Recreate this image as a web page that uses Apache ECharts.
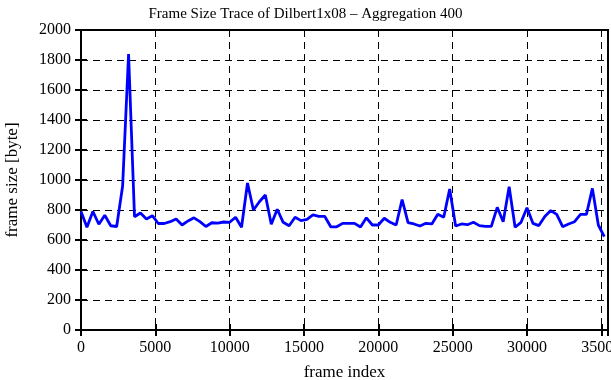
<!DOCTYPE html>
<html>
<head>
<meta charset="utf-8">
<script src="https://cdn.jsdelivr.net/npm/echarts@6/dist/echarts.min.js"></script>
<style>
  html, body { margin: 0; padding: 0; background: #fff; }
  #chart { width: 611px; height: 380px; }
</style>
</head>
<body>
<div id="chart"></div>
<script>
// frame index of every aggregated sample (400 frames each)
const frames = [
  0, 400, 800, 1200, 1600, 2000, 2400, 2800, 3200, 3600,
  4000, 4400, 4800, 5200, 5600, 6000, 6400, 6800, 7200, 7600,
  8000, 8400, 8800, 9200, 9600, 10000, 10400, 10800, 11200, 11600,
  12000, 12400, 12800, 13200, 13600, 14000, 14400, 14800, 15200, 15600,
  16000, 16400, 16800, 17200, 17600, 18000, 18400, 18800, 19200, 19600,
  20000, 20400, 20800, 21200, 21600, 22000, 22400, 22800, 23200, 23600,
  24000, 24400, 24800, 25200, 25600, 26000, 26400, 26800, 27200, 27600,
  28000, 28400, 28800, 29200, 29600, 30000, 30400, 30800, 31200, 31600,
  32000, 32400, 32800, 33200, 33600, 34000, 34400, 34800, 35200
]
// frame size [byte]
const frameSize = [
  790, 685, 790, 705, 765, 695, 690, 960, 1840, 755,
  780, 740, 762, 710, 710, 722, 740, 700, 727, 748,
  722, 690, 715, 713, 720, 718, 752, 685, 980, 800,
  855, 900, 705, 805, 718, 695, 752, 729, 738, 767,
  757, 757, 688, 688, 711, 711, 711, 687, 748, 700,
  700, 745, 718, 700, 870, 716, 707, 693, 711, 707,
  771, 752, 940, 693, 707, 702, 718, 696, 691, 691,
  818, 722, 955, 685, 718, 815, 711, 696, 756, 796,
  771, 689, 707, 722, 771, 771, 944, 700, 622
]

const serif = 'Liberation Serif'
const dashed = { show: true, lineStyle: { color: '#000', type: [7, 5], width: 1 } }
const plain = v => String(v)

const chart = echarts.init(document.getElementById('chart'))
chart.setOption({
  animation: false,
  title: {
    text: 'Frame Size Trace of Dilbert1x08 – Aggregation 400',
    left: 'center',
    top: 2,
    textStyle: { fontFamily: serif, fontSize: 15, fontWeight: 'normal', color: '#000' }
  },
  grid: {
    left: 81, right: 3, top: 30, height: 300,
    outerBoundsMode: 'none',
    containLabel: false,
    show: true, borderColor: '#000', borderWidth: 2
  },
  xAxis: [{
    type: 'value',
    min: 0, max: 35450, interval: 5000,
    name: 'frame index',
    nameLocation: 'middle',
    nameGap: 34,
    nameTextStyle: { fontFamily: serif, fontSize: 17, color: '#000' },
    axisLine: { show: true, lineStyle: { color: '#000', width: 2 } },
    axisTick: { show: true, inside: true, length: 6, lineStyle: { color: '#000', width: 2 } },
    axisLabel: { fontFamily: serif, fontSize: 16, color: '#000', margin: 10, showMaxLabel: false, formatter: plain },
    splitLine: dashed
  }, {
    type: 'value',
    position: 'top',
    min: 0, max: 35450, interval: 5000,
    axisLine: { show: false },
    axisTick: { show: true, inside: true, length: 6, lineStyle: { color: '#000', width: 2 } },
    axisLabel: { show: false },
    splitLine: { show: false }
  }],
  yAxis: [{
    type: 'value',
    min: 0, max: 2000, interval: 200,
    name: 'frame size [byte]',
    nameLocation: 'middle',
    nameGap: 60,
    nameTextStyle: { fontFamily: serif, fontSize: 17, color: '#000' },
    axisLine: { show: true, lineStyle: { color: '#000', width: 2 } },
    axisTick: { show: true, inside: true, length: 6, lineStyle: { color: '#000', width: 2 } },
    axisLabel: { fontFamily: serif, fontSize: 16, color: '#000', margin: 10, formatter: plain },
    splitLine: dashed
  }, {
    type: 'value',
    position: 'right',
    min: 0, max: 2000, interval: 200,
    axisLine: { show: false },
    axisTick: { show: true, inside: true, length: 6, lineStyle: { color: '#000', width: 2 } },
    axisLabel: { show: false },
    splitLine: { show: false }
  }],
  series: [{
    type: 'line',
    data: frames.map((f, i) => [f, frameSize[i]]),
    showSymbol: false,
    lineStyle: { color: '#0000ff', width: 2.8 },
    silent: true
  }]
})
</script>
</body>
</html>
